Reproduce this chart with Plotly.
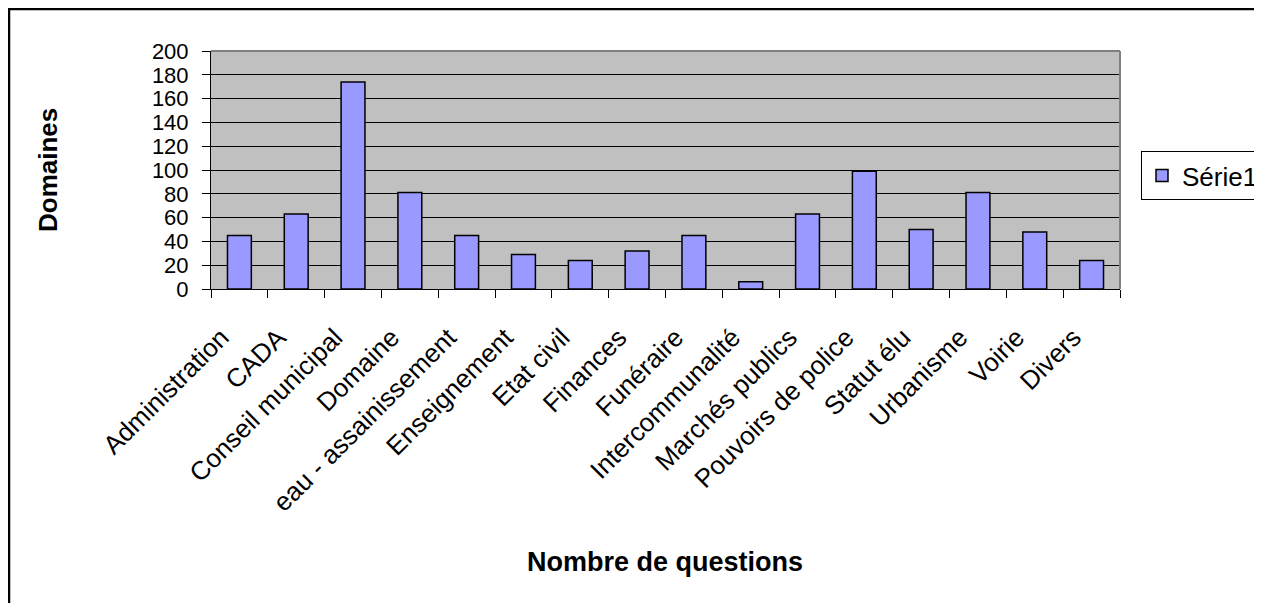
import plotly.graph_objects as go

categories = ["Administration", "CADA", "Conseil municipal", "Domaine", "eau - assainissement",
              "Enseignement", "Etat civil", "Finances", "Funéraire", "Intercommunalité",
              "Marchés publics", "Pouvoirs de police", "Statut élu", "Urbanisme", "Voirie", "Divers"]
values = [45, 63, 174, 81, 45, 29, 24, 32, 45, 6, 63, 99, 50, 81, 48, 24]
series_name = "Série1"
y_ticks = [0, 20, 40, 60, 80, 100, 120, 140, 160, 180, 200]

# page has an 8px body margin: figure drawn from window (8, 8)
OFF = 8
W, H = 1262 - OFF, 603 - OFF
# plot area in window pixels
L, R, T, B = 211, 1120, 51, 289
pw, ph = R - L, B - T

def px(x):
    return (x - L) / pw

def py(y):
    return (B - y) / ph

FONT = "Liberation Sans, Arial, sans-serif"

fig = go.Figure()
fig.add_trace(go.Bar(
    x=categories, y=values, name=series_name,
    marker=dict(color="#9999FF", line=dict(color="#000000", width=1.5)),
    showlegend=True,
))

fig.update_layout(
    width=W, height=H,
    margin=dict(l=L - OFF, r=W - (R - OFF), t=T - OFF, b=H - (B - OFF), autoexpand=False),
    paper_bgcolor="white", plot_bgcolor="#C0C0C0",
    bargap=0.58,
    font=dict(family=FONT, size=26, color="black"),
    showlegend=True,
    legend=dict(xref="container", yref="container",
                x=(1141 - OFF) / W, y=1 - (151 - OFF) / H, xanchor="left", yanchor="top",
                bordercolor="black", borderwidth=1, bgcolor="white",
                font=dict(size=26, family=FONT), itemwidth=30,
                tracegroupgap=0),
    xaxis=dict(type="category", tickangle=-45, tickson="boundaries",
               ticks="outside", ticklen=8, tickcolor="black",
               showline=True, linecolor="black", linewidth=1,
               showgrid=False, tickfont=dict(size=26, family=FONT),
               ticklabelstandoff=22, ticklabelshift=-18,
               range=[-0.5, len(categories) - 0.5]),
    yaxis=dict(range=[0, 200], tickvals=y_ticks, ticks="outside", ticklen=8,
               tickcolor="black", showline=True, linecolor="black", linewidth=1,
               showgrid=True, gridcolor="#000000", gridwidth=1,
               tickfont=dict(size=22, family=FONT), zeroline=False,
               ticklabelstandoff=9),
    annotations=[
        dict(text="<b>Domaines</b>", x=px(48), y=py(170), xref="paper", yref="paper",
             textangle=-90, showarrow=False, font=dict(size=26, family=FONT),
             xanchor="center", yanchor="middle"),
        dict(text="<b>Nombre de questions</b>", x=px(665), y=py(562), xref="paper", yref="paper",
             showarrow=False, font=dict(size=27, family=FONT),
             xanchor="center", yanchor="middle"),
    ],
    shapes=[
        dict(type="rect", xref="paper", yref="paper", x0=px(9), x1=px(1290), y0=py(9), y1=py(640),
             line=dict(color="black", width=2.5), fillcolor="rgba(0,0,0,0)", layer="below"),
        dict(type="line", xref="paper", yref="paper", x0=0, x1=1, y0=1, y1=1,
             line=dict(color="#808080", width=2)),
        dict(type="line", xref="paper", yref="paper", x0=1, x1=1, y0=0, y1=1,
             line=dict(color="#808080", width=2)),
    ],
)

fig.write_html("out.html")
